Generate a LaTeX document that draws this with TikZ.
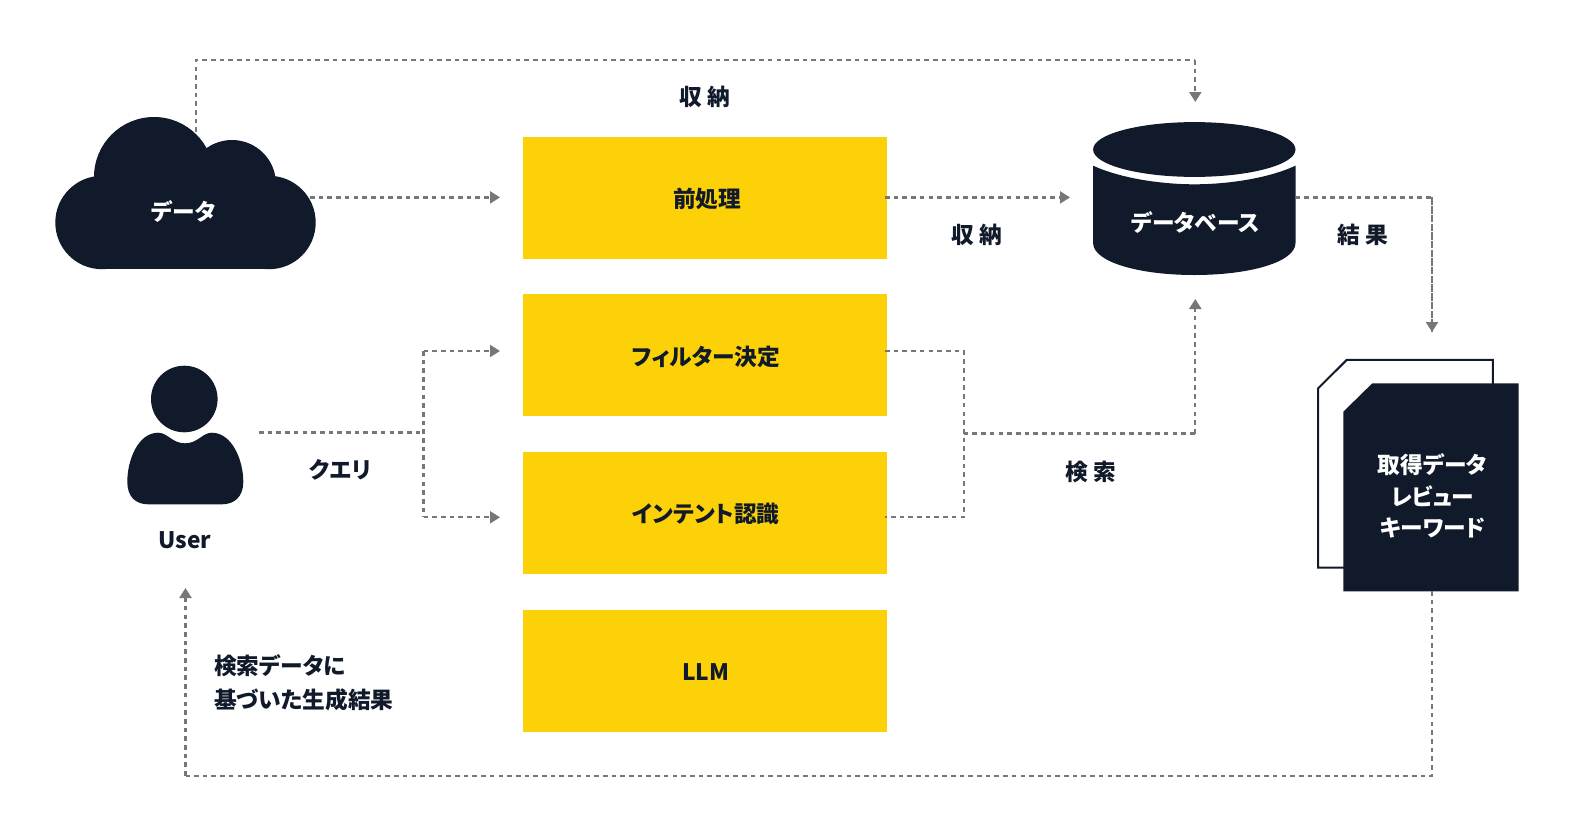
\documentclass[tikz,border=0pt]{standalone}
\usepackage{fontspec}
\setmainfont{Noto Sans CJK JP}[RawFeature=+palt]
\usetikzlibrary{arrows.meta,calc}
\definecolor{ink}{HTML}{111A2A}
\definecolor{gold}{HTML}{FCD108}
\definecolor{dash}{HTML}{777777}
\tikzset{
  every node/.style={font=\fontsize{22.7}{23}\selectfont\bfseries},
  procbox/.style={fill=gold,inner sep=0pt,minimum width=364pt,minimum height=122pt,text=ink,text height=20pt,text depth=0pt},
  lbl/.style={inner sep=0pt,text=ink},
  wlbl/.style={inner sep=0pt,text=white},
  link/.style={draw=dash,line width=2.2pt,dash pattern=on 4.6pt off 4.1pt},
  tip/.style={-{Triangle[length=10pt,width=12pt,color=dash]}},
}
\begin{document}
\begin{tikzpicture}[x=1pt,y=-1pt]
\useasboundingbox[fill=white] (0,0) rectangle (1574,836);

% coordinates for connector ends
\coordinate (cloudTop) at (196,132);
\coordinate (cloudOut) at (310,197.4);
\coordinate (preIn) at (500,197.4);
\coordinate (preOut) at (885,197.4);
\coordinate (dbIn) at (1070,197.4);
\coordinate (dbTop) at (1195.3,102);
\coordinate (dbBottom) at (1195.3,299);
\coordinate (dbOut) at (1295.6,197.4);
\coordinate (docIn) at (1432,332);
\coordinate (docOut) at (1432,591);
\coordinate (userOut) at (259,432.5);
\coordinate (split) at (423.5,432.5);
\coordinate (filtIn) at (500,351);
\coordinate (intIn) at (500,517.3);
\coordinate (filtOut) at (885,351);
\coordinate (intOut) at (885,517.3);
\coordinate (merge) at (963.7,433.5);
\coordinate (userIn) at (185.5,588);
\coordinate (bottomY) at (185.5,775.7);

% connectors that run under the shapes
\draw[link] (cloudTop) -- (cloudTop |- 0,60) -- (dbTop |- 0,60);
\draw[link,tip] (dbTop |- 0,60) -- (dbTop);
\draw[link,tip] (cloudOut) -- (preIn);

% cloud
\fill[ink] (154,177) circle[radius=60];
\fill[ink] (232,184) circle[radius=44];
\fill[ink] (102,222.5) circle[radius=46.7];
\fill[ink] (269,222.5) circle[radius=46.7];
\fill[ink] (102,180) rectangle (269,269.2);
\node[wlbl] (cloud) at (183.6,212) {データ};

% boxes
\node[procbox] (pre) at (705.3,197.7) {\hspace{4pt}前処理};
\node[procbox] (filt) at (705.3,355.2) {\hspace{1pt}フィルター決定};
\node[procbox] (intent) at (705.3,512.8) {\hspace{1pt}インテント認識};
\node[procbox] (llm) at (705.3,670.5) {\hspace{1pt}LLM};

% database
\fill[ink] (1194.3,149.5) ellipse[x radius=101.2,y radius=27.4];
\fill[ink] (1093.1,165.7) .. controls (1120,178) and (1160,184.3) .. (1194.3,184.3)
  .. controls (1229,184.3) and (1269,178) .. (1295.5,165.7)
  -- (1295.5,243) .. controls (1295.5,262) and (1250,275) .. (1194.3,275)
  .. controls (1139,275) and (1093.1,262) .. (1093.1,243) -- cycle;
\node[wlbl] (db) at (1195.3,223) {データベース};

% documents
\draw[ink,line width=2pt,fill=white] (1346.7,359.9) -- (1492.9,359.9) -- (1492.9,567.6) -- (1318.2,567.6) -- (1318.2,388.3) -- cycle;
\fill[ink] (1372.3,383.3) -- (1518.7,383.3) -- (1518.7,591.3) -- (1343.3,591.3) -- (1343.3,411.7) -- cycle;
\node[wlbl] (doc1) at (1432.6,464.4) {取得データ};
\node[wlbl] (doc2) at (1432.6,496) {レビュー};
\node[wlbl] (doc3) at (1432.6,527.9) {キーワード};

% user
\fill[ink] (184.3,399) circle[radius=33.3];
\fill[ink] (158.3,432.7) .. controls (168,433) and (172,443.3) .. (185,443.3)
  .. controls (198,443.3) and (202,433) .. (211.7,432.7)
  .. controls (232,432.7) and (243.3,460) .. (243.3,482)
  .. controls (243.3,497) and (234,504.3) .. (222,504.3)
  -- (148,504.3) .. controls (136,504.3) and (127.3,497) .. (127.3,482)
  .. controls (127.3,460) and (138,432.7) .. (158.3,432.7) -- cycle;
\node[lbl] (user) at (184.7,539.8) {User};

% remaining connectors
\draw[link,tip] (preOut) -- (dbIn);
\draw[link] (dbOut) -| (docIn);
\draw[link,tip] (docIn |- dbOut) -- (docIn);
\draw[link] (userOut) -- (split);
\draw[link] (filtIn -| split) -- (intIn -| split);
\draw[link,tip] (filtIn -| split) -- (filtIn);
\draw[link,tip] (intIn -| split) -- (intIn);
\draw[link] (filtOut) -| (merge |- intOut) -- (intOut);
\draw[link] (merge) -- (dbBottom |- merge);
\draw[link,tip] (dbBottom |- merge) -- (dbBottom);
\draw[link] (docOut) -- (docOut |- bottomY) -- (bottomY);
\draw[link,tip] (bottomY) -- (userIn);

% labels
\node[lbl] (l1) at (704.5,97) {収 納};
\node[lbl] (l2) at (976.7,234.8) {収 納};
\node[lbl] (l3) at (1362.6,234.5) {結 果};
\node[lbl] (l4) at (1091,471.7) {検 索};
\node[lbl] (l5) at (340.3,470) {クエリ};
\node[lbl,anchor=west] (l6) at (214,665.5) {検索データに};
\node[lbl,anchor=west] (l7) at (214,699.8) {基づいた生成結果};
\end{tikzpicture}
\end{document}
